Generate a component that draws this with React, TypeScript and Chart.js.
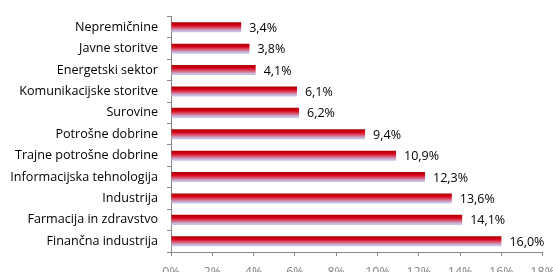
import React, { useEffect, useRef } from "react";
import { Chart, registerables } from "chart.js";

Chart.register(...registerables);

const categories = [
  "Nepremičnine",
  "Javne storitve",
  "Energetski sektor",
  "Komunikacijske storitve",
  "Surovine",
  "Potrošne dobrine",
  "Trajne potrošne dobrine",
  "Informacijska tehnologija",
  "Industrija",
  "Farmacija in zdravstvo",
  "Finančna industrija",
];
const values = [3.4, 3.8, 4.1, 6.1, 6.2, 9.4, 10.9, 12.3, 13.6, 14.1, 16.0];
const xTicks = [0, 2, 4, 6, 8, 10, 12, 14, 16, 18];

const FONT = "'Open Sans', 'Noto Sans', sans-serif";
const CANVAS_W = 564;
const CANVAS_H = 290;
const BAR_PCT = 0.47;

const valueLabels = {
  id: "valueLabels",
  afterDatasetsDraw(chart: any) {
    const ctx = chart.ctx;
    const meta = chart.getDatasetMeta(0);
    ctx.save();
    ctx.font = `12.5px ${FONT}`;
    ctx.fillStyle = "#000000";
    ctx.textAlign = "left";
    ctx.textBaseline = "middle";
    meta.data.forEach((el: any, i: number) => {
      const label = values[i].toFixed(1).replace(".", ",") + "%";
      ctx.fillText(label, el.x + 8, el.y + 1);
    });
    ctx.restore();
  },
};

export default function App() {
  const ref = useRef<HTMLCanvasElement>(null);
  useEffect(() => {
    if (!ref.current) return;
    const chart = new Chart(ref.current, {
      type: "bar",
      data: {
        labels: categories,
        datasets: [
          {
            data: values,
            barPercentage: BAR_PCT,
            categoryPercentage: 1,
            borderWidth: 0,
            backgroundColor: (c: any) => {
              const ch = c.chart;
              const y = ch.scales?.y;
              const area = ch.chartArea;
              if (!y || !area) return "#c00000";
              const center = y.getPixelForValue(c.dataIndex);
              const h = (area.height / categories.length) * BAR_PCT;
              const g = ch.ctx.createLinearGradient(0, center - h / 2, 0, center + h / 2);
              g.addColorStop(0, "#a80000");
              g.addColorStop(0.3, "#d8001a");
              g.addColorStop(0.6, "#d86078");
              g.addColorStop(0.85, "#c8b8dc");
              g.addColorStop(1, "#c4c8ee");
              return g;
            },
          },
        ],
      },
      options: {
        indexAxis: "y",
        animation: false,
        responsive: false,
        devicePixelRatio: 1,
        layout: { padding: { left: 0, right: 0, top: 16, bottom: 0 } },
        plugins: {
          legend: { display: false },
          tooltip: { enabled: false },
        },
        scales: {
          x: {
            min: 0,
            max: 18,
            afterBuildTicks: (s: any) => {
              s.ticks = xTicks.map((v) => ({ value: v }));
            },
            afterFit: (s: any) => {
              s.height = CANVAS_H - 252;
            },
            border: { display: true, color: "#868686", width: 1 },
            grid: {
              drawOnChartArea: false,
              drawTicks: true,
              tickLength: 4,
              color: "#868686",
            },
            ticks: {
              color: "#868686",
              font: { family: FONT, size: 12.5 },
              padding: 9,
              maxRotation: 0,
              autoSkip: false,
              callback: (v: any) => `${v}%`,
            },
          },
          y: {
            afterFit: (s: any) => {
              s.width = 171;
            },
            border: { display: true, color: "#868686", width: 1 },
            grid: {
              drawOnChartArea: false,
              drawTicks: true,
              tickLength: 4,
              offset: true,
              color: "#868686",
            },
            ticks: {
              color: "#000000",
              font: { family: FONT, size: 12.6 },
              padding: 9,
              autoSkip: false,
            },
          },
        },
      },
      plugins: [valueLabels],
    } as any);
    return () => chart.destroy();
  }, []);
  return (
    <div
      style={{
        position: "fixed",
        left: 0,
        top: 0,
        width: 553,
        height: 272,
        overflow: "hidden",
        background: "#fff",
      }}
    >
      <canvas
        ref={ref}
        width={CANVAS_W}
        height={CANVAS_H}
        style={{ width: CANVAS_W, height: CANVAS_H, display: "block" }}
      />
    </div>
  );
}
